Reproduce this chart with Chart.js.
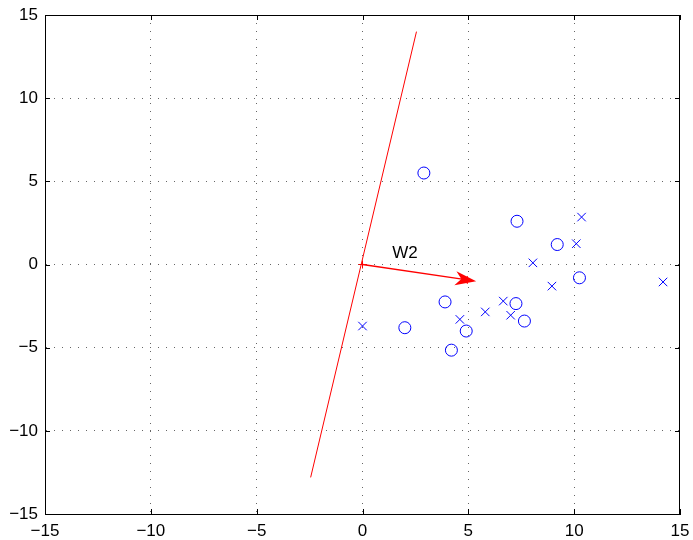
<!DOCTYPE html>
<html>
<head>
<meta charset="utf-8">
<script src="https://cdn.jsdelivr.net/npm/chart.js@4.4.0/dist/chart.umd.min.js"></script>
<style>
html, body { margin: 0; padding: 0; background: #fff; }
</style>
</head>
<body>
<canvas id="chart" width="693" height="540"></canvas>
<script>
// axis ticks
var tickValues = [-15, -10, -5, 0, 5, 10, 15];

// class 1 (circles)
var circleX = [2.9, 7.3, 9.2, 10.25, 3.9, 7.25, 2.0, 4.9, 7.65, 4.2];
var circleY = [5.5, 2.6, 1.2, -0.8, -2.25, -2.35, -3.8, -4.0, -3.4, -5.15];

// class 2 (crosses)
var crossX = [10.35, 10.1, 8.05, 8.95, 14.2, 6.65, 5.8, 7.0, 4.6, 0.0];
var crossY = [2.85, 1.25, 0.1, -1.3, -1.05, -2.2, -2.85, -3.05, -3.3, -3.7];

// discriminant line
var lineX = [2.55, -2.45];
var lineY = [14.0, -12.8];

// W2 arrow
var arrowX = [0, 4.95];
var arrowY = [0, -0.93];
var arrowLabel = 'W2';
var labelX = 1.4;
var labelY = 0.65;

function toPoints(xs, ys) {
    return xs.map((x, i) => ({ x: x, y: ys[i] }));
}

function fmtTick(v) {
    return v < 0 ? '\u2212' + Math.abs(v) : String(v);
}

var fontSpec = { family: '"Liberation Sans", Arial, Helvetica, sans-serif', size: 17 };

// box on top/right, inward ticks, arrow head and text label
var matlabAxes = {
    id: 'matlabAxes',
    afterDraw(chart) {
        var ctx = chart.ctx;
        var a = chart.chartArea;
        var xs = chart.scales.x, ys = chart.scales.y;
        ctx.save();
        ctx.strokeStyle = '#000';
        ctx.lineWidth = 1;
        ctx.beginPath();
        ctx.moveTo(a.left, a.top + 0.5);
        ctx.lineTo(a.right, a.top + 0.5);
        ctx.moveTo(a.right - 0.5, a.top);
        ctx.lineTo(a.right - 0.5, a.bottom);
        var len = 5;
        tickValues.forEach(v => {
            var px = Math.round(xs.getPixelForValue(v)) + 0.5;
            ctx.moveTo(px, a.bottom);
            ctx.lineTo(px, a.bottom - len);
            ctx.moveTo(px, a.top);
            ctx.lineTo(px, a.top + len);
            var py = Math.round(ys.getPixelForValue(v)) + 0.5;
            ctx.moveTo(a.left, py);
            ctx.lineTo(a.left + len, py);
            ctx.moveTo(a.right, py);
            ctx.lineTo(a.right - len, py);
        });
        ctx.stroke();

        // arrow head
        var x0 = xs.getPixelForValue(arrowX[0]), y0 = ys.getPixelForValue(arrowY[0]);
        var x1 = xs.getPixelForValue(arrowX[1]), y1 = ys.getPixelForValue(arrowY[1]);
        var ang = Math.atan2(y1 - y0, x1 - x0);
        var dx = Math.cos(ang), dy = Math.sin(ang);
        var nx = -dy, ny = dx;
        var tx = x1 + 9 * dx, ty = y1 + 9 * dy;
        var bx = tx - 21 * dx, by = ty - 21 * dy;
        var mx = tx - 15 * dx, my = ty - 15 * dy;
        ctx.fillStyle = '#ff0000';
        ctx.beginPath();
        ctx.moveTo(tx, ty);
        ctx.lineTo(bx + 7 * nx, by + 7 * ny);
        ctx.lineTo(mx, my);
        ctx.lineTo(bx - 7 * nx, by - 7 * ny);
        ctx.closePath();
        ctx.fill();

        // label
        ctx.fillStyle = '#000';
        ctx.font = '17px ' + fontSpec.family;
        ctx.textAlign = 'left';
        ctx.textBaseline = 'middle';
        ctx.fillText(arrowLabel, xs.getPixelForValue(labelX), ys.getPixelForValue(labelY));
        ctx.restore();
    }
};

function gridColor(c) {
    return (c.tick && Math.abs(c.tick.value) === 15) ? 'rgba(0,0,0,0)' : '#666';
}

new Chart(document.getElementById('chart'), {
    type: 'scatter',
    data: {
        datasets: [
            {
                data: toPoints(lineX, lineY),
                showLine: true,
                borderColor: '#ff0000',
                borderWidth: 1,
                pointRadius: 0
            },
            {
                data: toPoints(arrowX, arrowY),
                showLine: true,
                borderColor: '#ff0000',
                borderWidth: 1.3,
                pointStyle: 'cross',
                pointRadius: 4,
                pointBorderColor: '#ff0000',
                pointBorderWidth: 1
            },
            {
                data: toPoints(circleX, circleY),
                pointStyle: 'circle',
                pointRadius: 6,
                pointBorderColor: '#0000ff',
                pointBackgroundColor: 'rgba(0,0,0,0)',
                pointBorderWidth: 1
            },
            {
                data: toPoints(crossX, crossY),
                pointStyle: 'crossRot',
                pointRadius: 6,
                pointBorderColor: '#0000ff',
                pointBorderWidth: 1
            }
        ]
    },
    options: {
        responsive: false,
        animation: false,
        layout: { padding: { top: 15, right: 13, left: 0, bottom: 0 } },
        plugins: {
            legend: { display: false },
            tooltip: { enabled: false }
        },
        scales: {
            x: {
                type: 'linear',
                min: -15,
                max: 15,
                afterBuildTicks: s => { s.ticks = tickValues.map(v => ({ value: v })); },
                afterFit: s => { s.height = 26; s.paddingLeft = 0; s.paddingRight = 0; },
                ticks: {
                    color: '#000',
                    font: fontSpec,
                    padding: 7,
                    maxRotation: 0,
                    callback: fmtTick
                },
                grid: { color: gridColor, drawTicks: false, lineWidth: 1 },
                border: { display: true, color: '#000', width: 1, dash: [1, 7] }
            },
            y: {
                type: 'linear',
                min: -15,
                max: 15,
                afterBuildTicks: s => { s.ticks = tickValues.map(v => ({ value: v })); },
                afterFit: s => { s.width = 45; s.paddingTop = 0; s.paddingBottom = 0; },
                ticks: {
                    color: '#000',
                    font: fontSpec,
                    padding: 7,
                    callback: fmtTick
                },
                grid: { color: gridColor, drawTicks: false, lineWidth: 1 },
                border: { display: true, color: '#000', width: 1, dash: [1, 7] }
            }
        }
    },
    plugins: [matlabAxes]
});
</script>
</body>
</html>
